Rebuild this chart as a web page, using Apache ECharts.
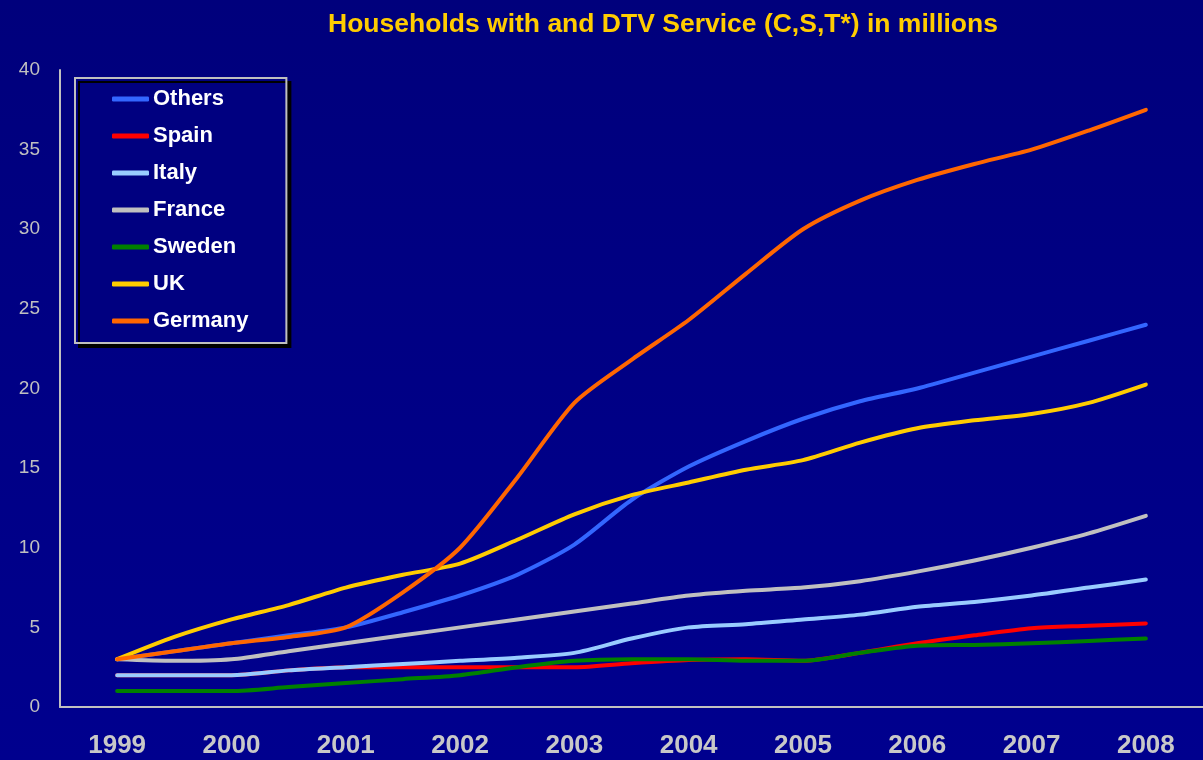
<!DOCTYPE html>
<html>
<head>
<meta charset="utf-8">
<script src="https://cdn.jsdelivr.net/npm/echarts@6/dist/echarts.min.js"></script>
<style>
  html, body { margin: 0; padding: 0; background: #000080; }
  #chart { width: 1203px; height: 760px; }
</style>
</head>
<body>
<div id="chart"></div>
<script>
// Half-year sampling points, 1999 to 2008
const periods = [1999, 1999.5, 2000, 2000.5, 2001, 2001.5, 2002, 2002.5, 2003, 2003.5,
                 2004, 2004.5, 2005, 2005.5, 2006, 2006.5, 2007, 2007.5, 2008];
const yearLabels = [1999, 2000, 2001, 2002, 2003, 2004, 2005, 2006, 2007, 2008];

// Households with DTV service, millions
const others  = [3.0, 3.5, 4.0, 4.5, 5.0, 5.95, 7.0, 8.3, 10.2, 13.0, 15.1, 16.7, 18.1, 19.2, 20.0, 21.0, 22.0, 23.0, 24.0];
const spain   = [2.0, 2.0, 2.0, 2.3, 2.5, 2.5, 2.5, 2.5, 2.5, 2.75, 2.95, 3.0, 2.9, 3.4, 4.0, 4.5, 4.95, 5.1, 5.25];
const italy   = [2.0, 2.0, 2.0, 2.3, 2.5, 2.7, 2.9, 3.1, 3.4, 4.3, 5.0, 5.2, 5.5, 5.8, 6.3, 6.6, 7.0, 7.5, 8.0];
const france  = [3.0, 2.9, 3.0, 3.5, 4.0, 4.5, 5.0, 5.5, 6.0, 6.5, 7.0, 7.3, 7.5, 7.9, 8.5, 9.2, 10.0, 10.9, 12.0];
const sweden  = [1.0, 1.0, 1.0, 1.25, 1.5, 1.75, 2.0, 2.5, 2.9, 3.0, 3.0, 2.9, 2.9, 3.4, 3.85, 3.9, 4.0, 4.15, 4.3];
const uk      = [3.0, 4.4, 5.5, 6.4, 7.5, 8.3, 9.0, 10.5, 12.1, 13.3, 14.1, 14.9, 15.5, 16.6, 17.5, 18.0, 18.4, 19.1, 20.25];
const germany = [3.0, 3.5, 4.0, 4.4, 5.0, 7.2, 10.0, 14.4, 19.1, 21.8, 24.3, 27.2, 30.0, 31.8, 33.1, 34.1, 35.0, 36.2, 37.5];

const seriesDefs = [
  { name: 'Others',  values: others,  color: '#3366FF' },
  { name: 'Spain',   values: spain,   color: '#FF0000' },
  { name: 'Italy',   values: italy,   color: '#99CCFF' },
  { name: 'France',  values: france,  color: '#C0C0C0' },
  { name: 'Sweden',  values: sweden,  color: '#008000' },
  { name: 'UK',      values: uk,      color: '#FFCC00' },
  { name: 'Germany', values: germany, color: '#FF6600' }
];

const chart = echarts.init(document.getElementById('chart'));

chart.setOption({
  animation: false,
  backgroundColor: {
    type: 'linear', x: 0, y: 0, x2: 0, y2: 1,
    colorStops: [{ offset: 0, color: '#00007C' }, { offset: 1, color: '#00008E' }]
  },
  title: {
    text: 'Households with and DTV Service (C,S,T*) in millions',
    left: 658, top: 6, textAlign: 'center',
    textStyle: { color: '#FFCC00', fontFamily: 'Liberation Sans, Arial, sans-serif', fontWeight: 'bold', fontSize: 26.5 }
  },
  legend: {
    orient: 'vertical',
    left: 75, top: 78,
    padding: [10, 38, 11, 37],
    itemGap: 15,
    itemWidth: 37, itemHeight: 5,
    icon: 'roundRect',
    selectedMode: false,
    backgroundColor: '#000080',
    borderColor: '#BFBFBF', borderWidth: 2,
    shadowColor: '#000000', shadowOffsetX: 4, shadowOffsetY: 4, shadowBlur: 0,
    textStyle: { color: '#FFFFFF', fontFamily: 'Liberation Sans, Arial, sans-serif', fontWeight: 'bold', fontSize: 22, lineHeight: 22, padding: [0, 0, 0, -1] },
    data: seriesDefs.map(s => s.name)
  },
  grid: { left: 60, right: 0, top: 70, bottom: 53, containLabel: false },
  xAxis: {
    type: 'value', min: 1998.5, max: 2008.5,
    axisLine: { show: true, onZero: false, lineStyle: { color: '#C0C0C0', width: 2 } },
    axisTick: { show: false },
    splitLine: { show: false },
    axisLabel: {
      customValues: yearLabels,
      color: '#C8C8C8', fontFamily: 'Liberation Sans, Arial, sans-serif', fontWeight: 'bold', fontSize: 26,
      margin: 26,
      formatter: v => String(v)
    }
  },
  yAxis: {
    type: 'value', min: 0, max: 40, interval: 5,
    axisLine: { show: true, lineStyle: { color: '#C0C0C0', width: 2 } },
    axisTick: { show: false },
    splitLine: { show: false },
    axisLabel: { color: '#C0C0C0', fontFamily: 'Liberation Sans, Arial, sans-serif', fontSize: 19, margin: 20, padding: [3, 0, 0, 0] }
  },
  series: seriesDefs.map(s => ({
    name: s.name,
    type: 'line',
    data: periods.map((p, i) => [p, s.values[i]]),
    smooth: 0.25,
    showSymbol: false,
    symbol: 'none',
    color: s.color,
    lineStyle: { color: s.color, width: 4, cap: 'round', join: 'round' }
  }))
});
</script>
</body>
</html>
